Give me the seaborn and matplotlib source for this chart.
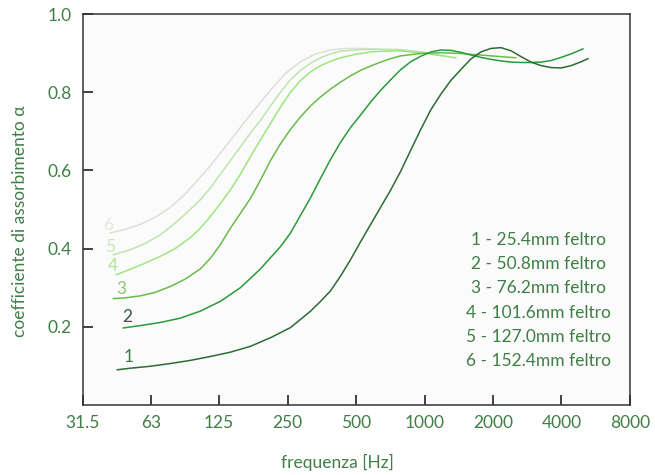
"""
Absorption coefficient of felt layers vs frequency
"""

import matplotlib
matplotlib.use("Agg")
import matplotlib.pyplot as plt
from matplotlib.ticker import FixedLocator, FixedFormatter, NullLocator
import seaborn as sns

# curve data (frequency in Hz, absorption coefficient)
freqs1 = [44.5, 50.8, 62.2, 76.2, 93.3, 114.3, 140, 171.5, 210.2, 257.5,
          315.4, 349, 386.2, 427.6, 473.2, 523.9, 579.8, 641.6, 710.3, 786,
          870.2, 962.9, 1066, 1180, 1305, 1445, 1600, 1771, 1960, 2168,
          2401, 2657, 2941, 3255, 3604, 3987, 4413, 4885, 5245]
alpha1 = [0.09, 0.094, 0.099, 0.106, 0.114, 0.124, 0.135, 0.150, 0.172, 0.198,
          0.240, 0.265, 0.292, 0.33, 0.372, 0.418, 0.462, 0.506, 0.55, 0.598,
          0.652, 0.705, 0.755, 0.795, 0.83, 0.858, 0.885, 0.903, 0.912, 0.914,
          0.906, 0.891, 0.877, 0.868, 0.863, 0.862, 0.868, 0.878, 0.886]

freqs2 = [47.3, 56.2, 68.8, 84.3, 103.3, 126.5, 155, 189.9, 232.6, 257.5,
          284.9, 315.4, 349, 386.2, 427.6, 473.2, 523.9, 579.8, 641.6, 710.3,
          786, 870.2, 962.9, 1066, 1180, 1305, 1445, 1600, 1771, 1960,
          2168, 2401, 2657, 2941, 3255, 3604, 3987, 4413, 4984]
alpha2 = [0.197, 0.203, 0.211, 0.222, 0.24, 0.265, 0.30, 0.348, 0.405, 0.44,
          0.485, 0.53, 0.58, 0.628, 0.672, 0.71, 0.742, 0.775, 0.805, 0.832,
          0.858, 0.878, 0.892, 0.903, 0.908, 0.907, 0.902, 0.895, 0.889, 0.884,
          0.88, 0.877, 0.876, 0.876, 0.877, 0.881, 0.889, 0.898, 0.911]

freqs3 = [42.7, 48.2, 56.2, 65.4, 76.2, 88.7, 103.3, 114.3, 126.5, 140,
          155, 171.5, 189.9, 210.2, 232.6, 257.5, 284.9, 315.4, 349, 386.2,
          427.6, 473.2, 523.9, 579.8, 641.6, 710.3, 786, 962.9, 1180, 1445,
          1771, 2168, 2525]
alpha3 = [0.272, 0.274, 0.279, 0.288, 0.303, 0.322, 0.348, 0.375, 0.41, 0.452,
          0.49, 0.528, 0.575, 0.625, 0.668, 0.705, 0.737, 0.765, 0.788, 0.808,
          0.826, 0.842, 0.856, 0.867, 0.877, 0.886, 0.893, 0.899, 0.901, 0.899,
          0.895, 0.891, 0.888]

freqs4 = [44.0, 50.8, 59.1, 68.8, 80.1, 93.3, 103.3, 114.3, 126.5, 140,
          155, 171.5, 189.9, 210.2, 232.6, 257.5, 284.9, 315.4, 349, 386.2,
          427.6, 497.8, 597.8, 786, 1013, 1374]
alpha4 = [0.333, 0.347, 0.363, 0.38, 0.40, 0.428, 0.452, 0.482, 0.515, 0.55,
          0.59, 0.635, 0.678, 0.72, 0.762, 0.80, 0.83, 0.852, 0.868, 0.879,
          0.888, 0.897, 0.904, 0.906, 0.899, 0.888]

freqs5 = [42.7, 50.8, 59.1, 68.8, 80.1, 93.3, 103.3, 114.3, 126.5, 140,
          155, 171.5, 189.9, 210.2, 232.6, 257.5, 284.9, 315.4, 349, 386.2,
          427.6, 523.9, 641.6, 786, 962.9, 1241]
alpha5 = [0.384, 0.397, 0.413, 0.435, 0.465, 0.50, 0.525, 0.555, 0.59, 0.625,
          0.66, 0.695, 0.728, 0.765, 0.80, 0.832, 0.856, 0.874, 0.888, 0.898,
          0.905, 0.909, 0.91, 0.909, 0.903, 0.893]

freqs6 = [41.4, 48.2, 56.2, 65.4, 76.2, 88.7, 98.2, 114.3, 133.1, 155,
          180.4, 210.2, 244.7, 284.9, 331.8, 386.2, 449.8, 551, 710.3, 962.9]
alpha6 = [0.44, 0.449, 0.462, 0.48, 0.505, 0.54, 0.568, 0.612, 0.66, 0.71,
          0.758, 0.805, 0.848, 0.878, 0.898, 0.908, 0.912, 0.912, 0.908, 0.902]

curve_names = ["1", "2", "3", "4", "5", "6"]
legend_labels = ["1 - 25.4mm feltro", "2 - 50.8mm feltro", "3 - 76.2mm feltro",
                 "4 - 101.6mm feltro", "5 - 127.0mm feltro", "6 - 152.4mm feltro"]
x_ticks = [31.5, 63, 125, 250, 500, 1000, 2000, 4000, 8000]
x_tick_labels = ["31.5", "63", "125", "250", "500", "1000", "2000", "4000", "8000"]
y_ticks = [0.2, 0.4, 0.6, 0.8, 1.0]
y_tick_labels = ["0.2", "0.4", "0.6", "0.8", "1.0"]

line_colors = ["#2c6b35", "#2a9b3a", "#69bb4b", "#9de67e", "#bde4ab", "#dbe1d6"]
label_colors = ["#3d7a44", "#3b5544", "#8cc86f", "#a9e693", "#c9e6bb", "#e2e8de"]
label_offsets = [(8, 9.5), (3, 8), (6, 7), (-2, 6), (-2, 6), (-1.5, 6)]
text_color = "#3f7f47"
axis_color = "#333333"

sns.set_style("ticks")
plt.rcParams["font.family"] = ["Lato", "DejaVu Sans"]

fig = plt.figure(figsize=(6.55, 4.75), dpi=100)
ax = fig.add_axes([0.1267, 0.1474, 0.835, 0.8231])
ax.set_facecolor("#fcfbfb")

curves = [(freqs1, alpha1), (freqs2, alpha2), (freqs3, alpha3),
          (freqs4, alpha4), (freqs5, alpha5), (freqs6, alpha6)]

# draw lightest first so dark curves sit on top
for i in reversed(range(len(curves))):
    f, a = curves[i]
    sns.lineplot(x=f, y=a, ax=ax, color=line_colors[i], linewidth=1.1,
                 estimator=None, sort=False)
    ax.annotate(curve_names[i], xy=(f[0], a[0]), xytext=label_offsets[i],
                textcoords="offset points", color=label_colors[i],
                fontsize=12.5, ha="center", va="center")

ax.set_xscale("log", base=2)
ax.set_xlim(31.5, 8000)
ax.set_ylim(0, 1.0)
ax.xaxis.set_major_locator(FixedLocator(x_ticks))
ax.xaxis.set_major_formatter(FixedFormatter(x_tick_labels))
ax.xaxis.set_minor_locator(NullLocator())
ax.set_yticks(y_ticks)
ax.set_yticklabels(y_tick_labels)

for spine in ax.spines.values():
    spine.set_visible(True)
    spine.set_color(axis_color)
    spine.set_linewidth(1.1)

ax.set_xlabel("frequenza [Hz]", color=text_color, fontsize=12.5)
ax.set_ylabel("coefficiente di assorbimento α", color=text_color, fontsize=12.5)
ax.xaxis.set_label_coords(0.465, -0.125)
ax.yaxis.set_label_coords(-0.1, 0.47)

# legend as plain text block
for i, txt in enumerate(legend_labels):
    ax.text(0.832, 0.422 - i * 0.062, txt, transform=ax.transAxes,
            ha="center", va="center", color=text_color, fontsize=12.5)

ax.tick_params(axis="both", which="major", direction="in", length=7.5, width=1.3,
               color=axis_color, labelcolor=text_color, labelsize=12.5)
ax.xaxis.set_tick_params(pad=7)
ax.yaxis.set_tick_params(pad=8)

fig.savefig("out.png", dpi=100)
